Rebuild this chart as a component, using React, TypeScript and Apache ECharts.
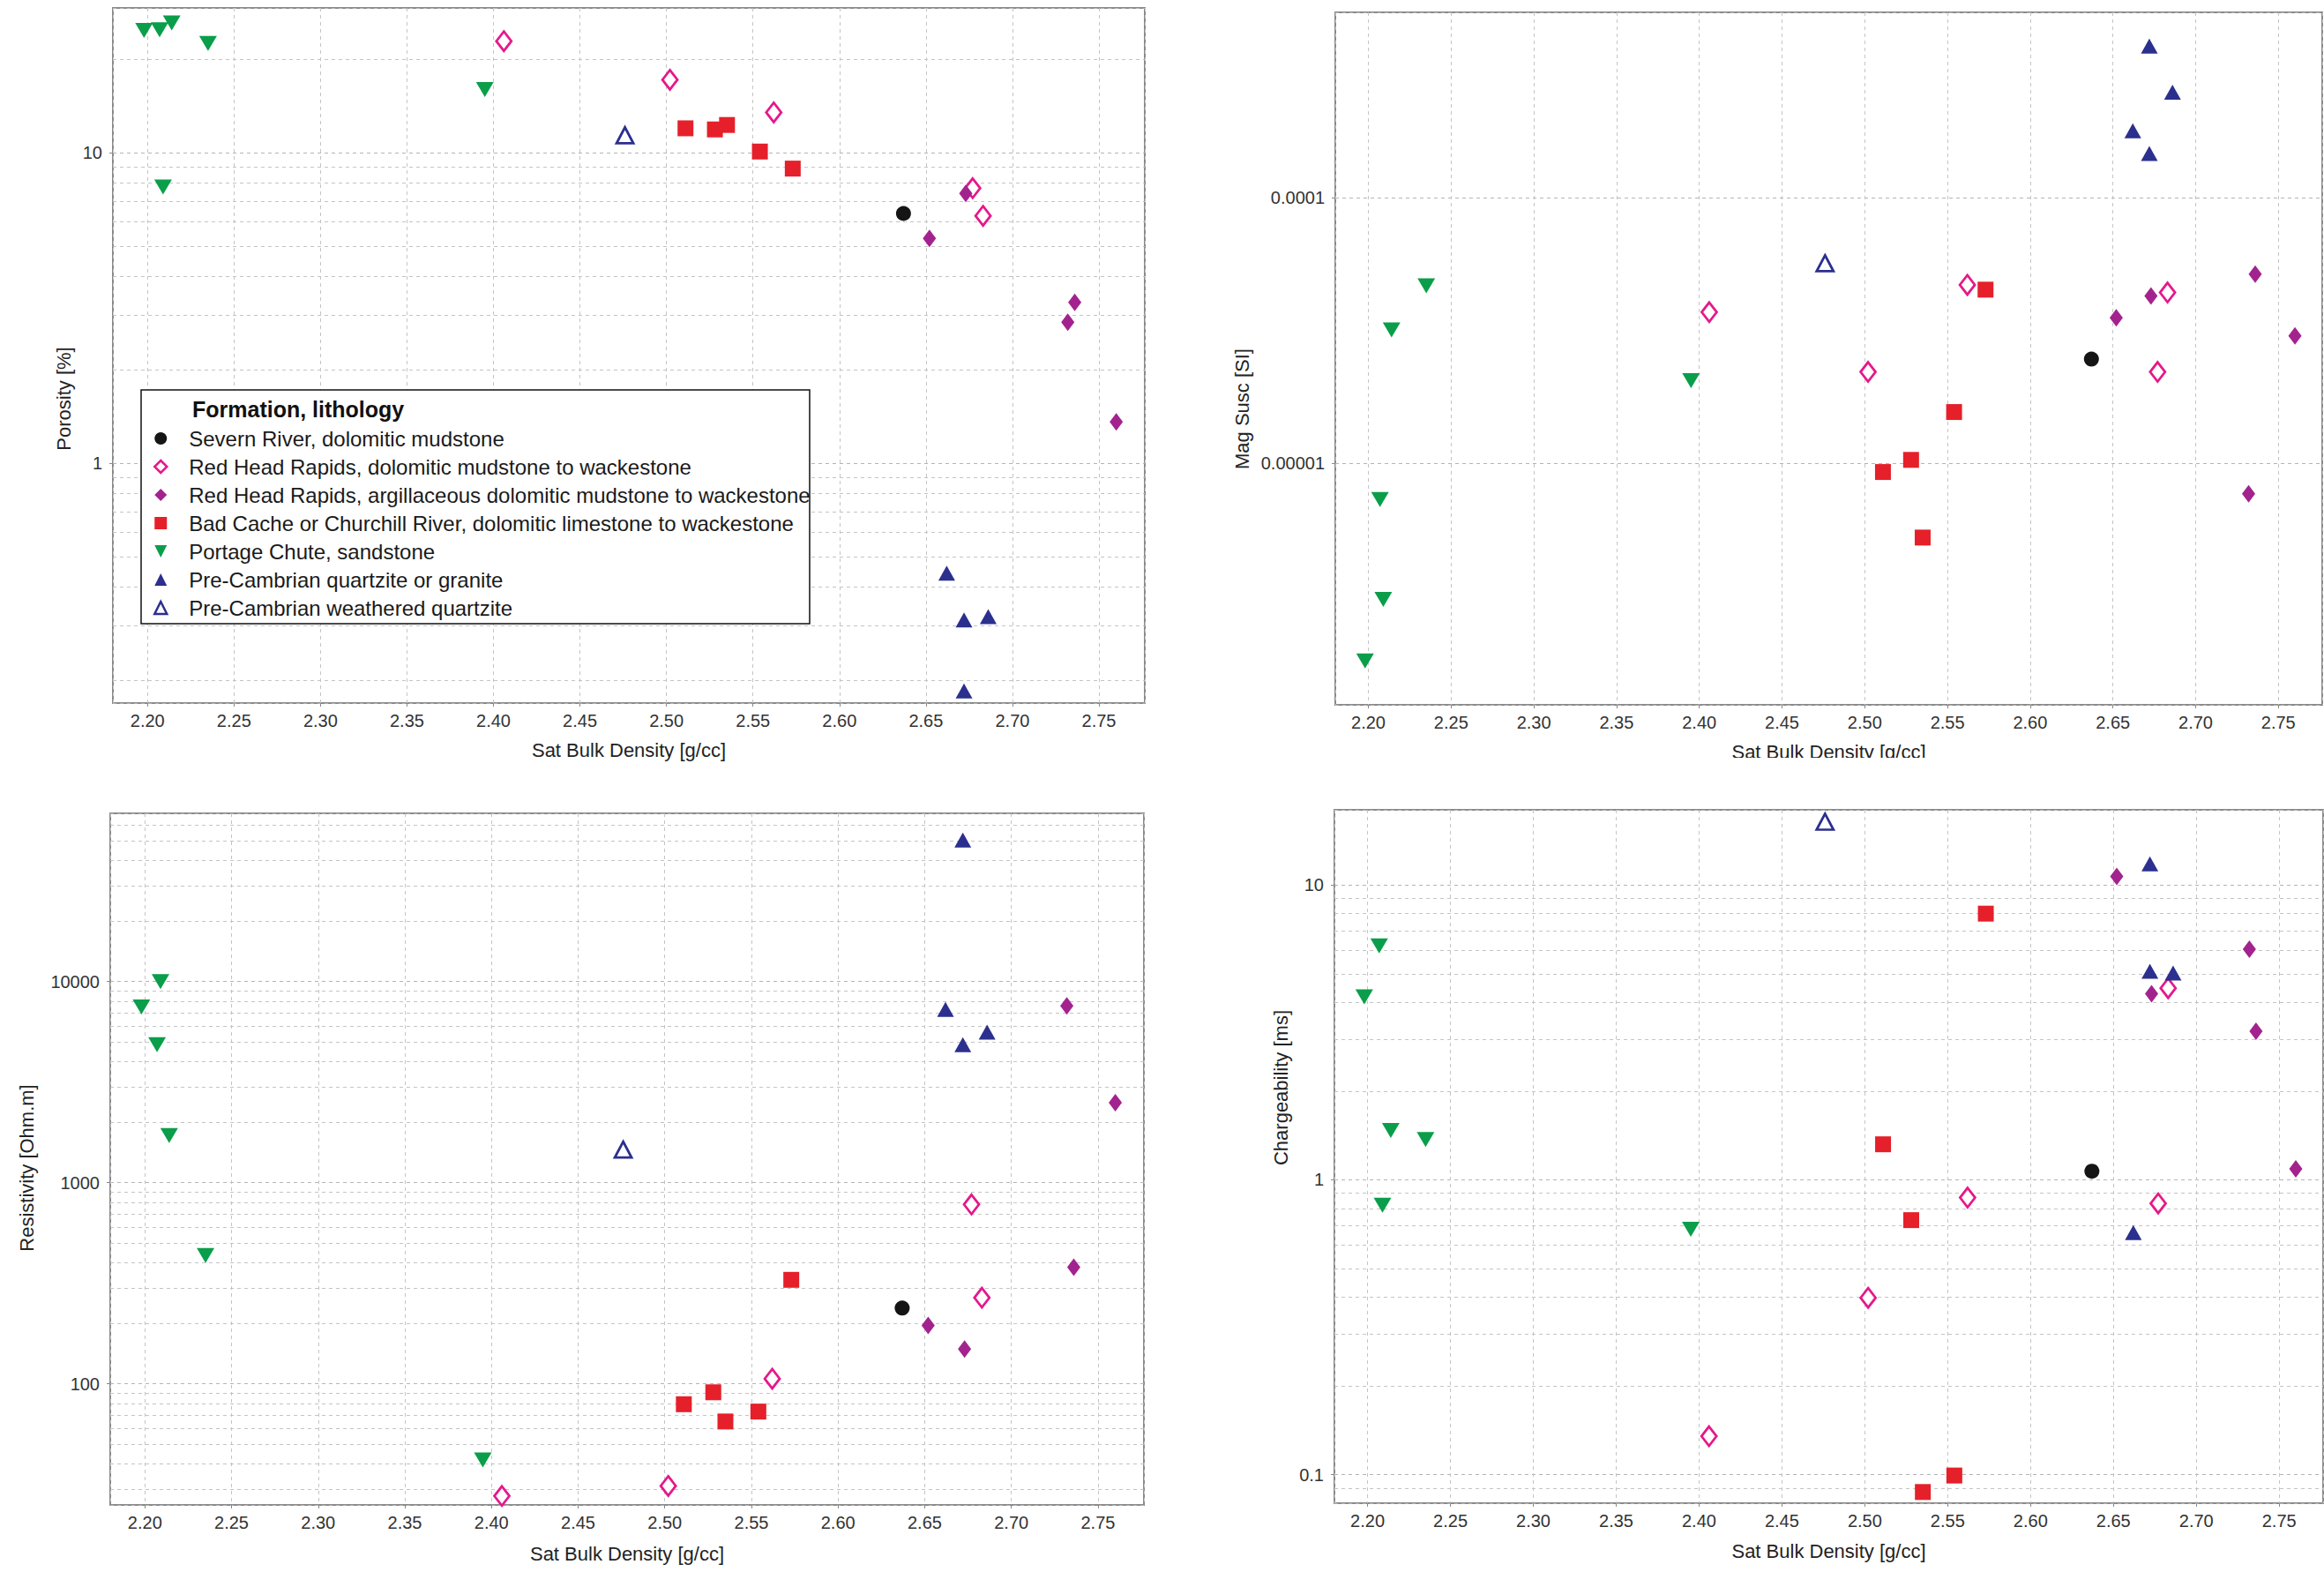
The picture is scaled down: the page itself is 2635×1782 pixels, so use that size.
import React, { useEffect, useRef } from 'react';
import * as echarts from 'echarts';

// ---------------- DATA ----------------
const FORMATIONS = [
  'Severn River, dolomitic mudstone',
  'Red Head Rapids, dolomitic mudstone to wackestone',
  'Red Head Rapids, argillaceous dolomitic mudstone to wackestone',
  'Bad Cache or Churchill River, dolomitic limestone to wackestone',
  'Portage Chute, sandstone',
  'Pre-Cambrian quartzite or granite',
  'Pre-Cambrian weathered quartzite',
];

// Saturated bulk density [g/cc] of each sample
const densitySevern = [2.637];
const densityRhrDolo = [2.406, 2.502, 2.562, 2.677, 2.683];
const densityRhrArg = [2.652, 2.673, 2.732, 2.736, 2.76];
const densityBadCache = [2.511, 2.528, 2.535, 2.554, 2.573];
const densityPortage = [2.198, 2.207, 2.209, 2.214, 2.235, 2.395];
const densityPreCam = [2.662, 2.672, 2.672, 2.686];
const densityPreCamW = [2.476];

// Porosity [%]
const porositySevern = [6.38];
const porosityRhrDolo = [22.9, 17.2, 13.5, 7.7, 6.27];
const porosityRhrArg = [5.3, 7.41, 2.85, 3.3, 1.36];
const porosityBadCache = [12.0, 11.9, 12.3, 10.1, 8.9];
const porosityPortage = [24.8, 24.9, 7.76, 26.2, 22.5, 16.0];
const porosityPreCam = [0.443, 0.313, 0.185, 0.321];
const porosityPreCamW = [11.4];

// Magnetic susceptibility [SI]
const magSevern = [2.47e-5];
const magRhrDolo = [3.71e-5, 2.21e-5, 4.7e-5, 2.21e-5, 4.4e-5];
const magRhrArg = [3.53e-5, 4.27e-5, 7.67e-6, 5.16e-5, 3.02e-5];
const magBadCache = [9.27e-6, 1.03e-5, 5.25e-6, 1.56e-5, 4.51e-5];
const magPortage = [1.8e-6, 7.3e-6, 3.07e-6, 3.18e-5, 4.66e-5, 2.05e-5];
const magPreCam = [1.79e-4, 3.73e-4, 1.47e-4, 2.5e-4];
const magPreCamW = [5.67e-5];

// Resistivity [Ohm.m]
const resSevern = [238];
const resRhrDolo = [27.7, 31.1, 106, 780, 268];
const resRhrArg = [195, 149, 7570, 380, 2500];
const resBadCache = [79.2, 90.8, 65.0, 72.8, 329];
const resPortage = [7480, 4860, 10000, 1715, 435, 41.8];
const resPreCam = [7280, 50600, 4860, 5610];
const resPreCamW = [1460];

// Chargeability [ms]
const chgSevern = [1.07];
const chgRhrDolo = [0.135, 0.398, 0.871, 0.832, 4.47];
const chgRhrArg = [10.7, 4.28, 6.06, 3.19, 1.09];
const chgBadCache = [1.32, 0.73, 0.0873, 0.0993, 8.0];
const chgPortage = [4.18, 6.22, 0.82, 1.47, 1.37, 0.68];
const chgPreCam = [0.662, 11.8, 5.1, 5.03];
const chgPreCamW = [16.4];

const DENSITIES = [densitySevern, densityRhrDolo, densityRhrArg, densityBadCache, densityPortage, densityPreCam, densityPreCamW];
const POROSITY = [porositySevern, porosityRhrDolo, porosityRhrArg, porosityBadCache, porosityPortage, porosityPreCam, porosityPreCamW];
const MAGSUSC = [magSevern, magRhrDolo, magRhrArg, magBadCache, magPortage, magPreCam, magPreCamW];
const RESISTIVITY = [resSevern, resRhrDolo, resRhrArg, resBadCache, resPortage, resPreCam, resPreCamW];
const CHARGEABILITY = [chgSevern, chgRhrDolo, chgRhrArg, chgBadCache, chgPortage, chgPreCam, chgPreCamW];

const X_NAME = 'Sat Bulk Density [g/cc]';
const Y_NAMES = ['Porosity [%]', 'Mag Susc [SI]', 'Resistivity [Ohm.m]', 'Chargeability [ms]'];
const LEGEND_TITLE = 'Formation, lithology';
const X_RANGE = [2.18, 2.7765];
const Y_RANGES = [
  [0.169, 29.3],
  [1.23e-6, 5.0e-4],
  [25, 68600],
  [0.08, 18],
];

// ---------------- STYLE ----------------
const FONT = '"Liberation Sans", Arial, sans-serif';
const PINK = '#e5188b';
const PURPLE = '#a3238e';
const RED = '#e5202a';
const GREEN = '#0a9e4a';
const NAVY = '#2b2f8e';
const BLACK = '#151515';
const DOWN_TRI = 'path://M0,0L10,0L5,10Z';

const STYLES: any[] = [
  { symbol: 'circle', symbolSize: 17, itemStyle: { color: BLACK, opacity: 1 }, icon: 'circle', legendStyle: { color: BLACK } },
  {
    symbol: 'diamond', symbolSize: [17, 22],
    itemStyle: { color: '#ffffff', borderColor: PINK, borderWidth: 2.8, opacity: 1 },
    icon: 'diamond', legendStyle: { color: '#ffffff', borderColor: PINK, borderWidth: 2.5 },
  },
  { symbol: 'diamond', symbolSize: [15, 20], itemStyle: { color: PURPLE, opacity: 1 }, icon: 'diamond', legendStyle: { color: PURPLE } },
  { symbol: 'rect', symbolSize: 18, itemStyle: { color: RED, opacity: 1 }, icon: 'rect', legendStyle: { color: RED } },
  { symbol: DOWN_TRI, symbolSize: [20, 17], itemStyle: { color: GREEN, opacity: 1 }, icon: DOWN_TRI, legendStyle: { color: GREEN } },
  { symbol: 'triangle', symbolSize: [19, 17], itemStyle: { color: NAVY, opacity: 1 }, icon: 'triangle', legendStyle: { color: NAVY } },
  {
    symbol: 'triangle', symbolSize: [19, 18],
    itemStyle: { color: '#ffffff', borderColor: NAVY, borderWidth: 2.8, opacity: 1 },
    icon: 'triangle', legendStyle: { color: '#ffffff', borderColor: NAVY, borderWidth: 2.5 },
  },
];

const GRIDS = [
  { left: 128, top: 9, width: 1170, height: 788 },
  { left: 1514, top: 14, width: 1119, height: 785 },
  { left: 125, top: 922, width: 1172, height: 784 },
  { left: 1513, top: 918, width: 1121, height: 786 },
];
const X_NAME_GAP = [42, 42, 44, 43];
const Y_NAME_GAP = [45, 95, 84, 50];
const Y_NAME_PAD = [
  [0, 98, 0, 0],
  [0, 114, 0, 0],
  [0, 20, 0, 0],
  [0, 0, 0, 156],
];

const GRID_LINE = { color: '#c4c4c4', type: [4, 4], width: 1 };

function xLabel(v: number) {
  const k = Math.round(v / 0.05);
  return Math.abs(v - k * 0.05) < 1e-6 ? v.toFixed(2) : '';
}
function yLabel(v: number) {
  const l = Math.log10(v);
  const e = Math.round(l);
  if (Math.abs(l - e) > 1e-6) return '';
  return e >= 0 ? String(Math.round(Math.pow(10, e))) : Math.pow(10, e).toFixed(-e);
}
function minorValues(range: number[]) {
  const out: number[] = [];
  const k0 = Math.floor(Math.log10(range[0]));
  const k1 = Math.ceil(Math.log10(range[1]));
  for (let k = k0; k <= k1; k++) {
    for (let m = 2; m <= 9; m++) {
      const v = m * Math.pow(10, k);
      if (v > range[0] && v < range[1]) out.push(v);
    }
  }
  return out;
}

export default function App() {
  const ref = useRef<HTMLDivElement>(null);
  useEffect(() => {
    if (!ref.current) return;
    const chart = echarts.init(ref.current, null, { renderer: 'svg' });
    const props = [POROSITY, MAGSUSC, RESISTIVITY, CHARGEABILITY];

    const grid = GRIDS.map((g) => ({
      ...g, show: true, borderColor: '#8a8a8a', borderWidth: 2, backgroundColor: 'transparent',
      containLabel: false, outerBoundsMode: 'none',
    }));
    const xAxis = GRIDS.map((_, i) => ({
      gridIndex: i, type: 'value', min: X_RANGE[0], max: X_RANGE[1],
      splitNumber: 12, minInterval: 0.05, maxInterval: 0.05,
      name: X_NAME, nameLocation: 'middle', nameGap: X_NAME_GAP[i],
      nameTextStyle: { fontSize: 22, fontFamily: FONT, color: '#222' },
      axisLine: { show: false },
      axisTick: { show: true, length: 4, lineStyle: { color: '#888' } },
      axisLabel: { fontSize: 20, fontFamily: FONT, color: '#333', margin: 10, formatter: xLabel, showMinLabel: false, showMaxLabel: false },
      splitLine: { show: true, lineStyle: GRID_LINE },
    }));
    const yAxis = GRIDS.map((_, i) => ({
      gridIndex: i, type: 'log', logBase: 10, min: Y_RANGES[i][0], max: Y_RANGES[i][1],
      name: Y_NAMES[i], nameLocation: 'middle', nameGap: Y_NAME_GAP[i],
      nameTextStyle: { fontSize: 22, fontFamily: FONT, color: '#222', padding: Y_NAME_PAD[i] },
      axisLine: { show: false },
      axisTick: { show: true, length: 4, lineStyle: { color: '#888' } },
      axisLabel: { fontSize: 20, fontFamily: FONT, color: '#333', margin: 12, formatter: yLabel, showMinLabel: false, showMaxLabel: false },
      splitLine: { show: true, lineStyle: { ...GRID_LINE, color: '#b4b4b4' } },
    }));

    const series: any[] = [];
    GRIDS.forEach((_, gi) => {
      series.push({
        type: 'scatter', xAxisIndex: gi, yAxisIndex: gi, data: [], silent: true,
        markLine: {
          silent: true, symbol: 'none', animation: false, label: { show: false },
          lineStyle: GRID_LINE,
          data: minorValues(Y_RANGES[gi]).map((v) => ({ yAxis: v })),
        },
      });
      FORMATIONS.forEach((name, fi) => {
        const st = STYLES[fi];
        series.push({
          name, type: 'scatter', xAxisIndex: gi, yAxisIndex: gi,
          symbol: st.symbol, symbolSize: st.symbolSize, itemStyle: st.itemStyle,
          data: DENSITIES[fi].map((d, k) => [d, props[gi][fi][k]]),
          z: 5,
        });
      });
    });

    chart.setOption({
      animation: false,
      backgroundColor: '#ffffff',
      grid, xAxis, yAxis, series,
      legend: {
        orient: 'vertical', left: 174, top: 485, padding: 0,
        itemWidth: 14, itemHeight: 14, itemGap: 8, selectedMode: false, z: 20,
        symbolKeepAspect: true,
        textStyle: { fontSize: 24, lineHeight: 24, fontFamily: FONT, color: '#1a1a1a', padding: [0, 0, 0, 20] },
        data: FORMATIONS.map((name, fi) => ({ name, icon: STYLES[fi].icon, itemStyle: STYLES[fi].legendStyle })),
      },
      graphic: [
        {
          type: 'rect', z: 10, silent: true,
          shape: { x: 160, y: 442, width: 758, height: 265 },
          style: { fill: '#ffffff', stroke: '#111', lineWidth: 1.5 },
        },
        {
          type: 'text', z: 21, x: 218, y: 464, silent: true,
          style: { text: LEGEND_TITLE, font: 'bold 25px "Liberation Sans", Arial, sans-serif', fill: '#111', verticalAlign: 'middle' },
        },
        {
          type: 'rect', z: 50, silent: true,
          shape: { x: 1380, y: 859, width: 1255, height: 50 },
          style: { fill: '#ffffff' },
        },
      ],
    });
    return () => chart.dispose();
  }, []);
  return (
    <div
      ref={ref}
      style={{ position: 'fixed', left: 0, top: 0, width: 2635, height: 1782, background: '#fff' }}
    />
  );
}
